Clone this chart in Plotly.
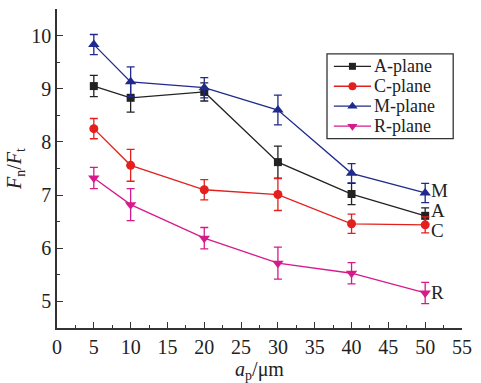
import plotly.graph_objects as go

x = [5, 10, 20, 30, 40, 50]
a_plane = [9.05, 8.83, 8.94, 7.62, 7.02, 6.61]
a_err = [0.2, 0.27, 0.17, 0.3, 0.2, 0.15]
c_plane = [8.25, 7.56, 7.10, 7.01, 6.46, 6.44]
c_err = [0.19, 0.3, 0.19, 0.3, 0.18, 0.15]
m_plane = [9.83, 9.13, 9.02, 8.60, 7.41, 7.04]
m_err = [0.19, 0.28, 0.19, 0.28, 0.18, 0.18]
r_plane = [7.32, 6.82, 6.19, 5.72, 5.53, 5.16]
r_err = [0.2, 0.3, 0.2, 0.3, 0.2, 0.2]
names = ["A-plane", "C-plane", "M-plane", "R-plane"]
end_labels = ["A", "C", "M", "R"]
end_offsets = [0.1, -0.11, 0.04, 0.0]

series = [
    (a_plane, a_err, "#222222", "square", 8),
    (c_plane, c_err, "#e3201e", "circle", 9),
    (m_plane, m_err, "#1f2a8c", "triangle-up", 10),
    (r_plane, r_err, "#d61a8c", "triangle-down", 10),
]

FONT = "Liberation Serif, Times New Roman, serif"
TXT = "#222"
fig = go.Figure()
for (ys, es, col, sym, sz), nm in zip(series, names):
    fig.add_trace(go.Scatter(
        x=x, y=ys, name=nm, mode="lines+markers", showlegend=False,
        line=dict(color=col, width=1.3),
        marker=dict(symbol=sym, size=sz, color=col),
        error_y=dict(type="data", array=es, color=col, thickness=1.3, width=4),
    ))

for ys, lab, off, s in zip([a_plane, c_plane, m_plane, r_plane], end_labels, end_offsets, series):
    fig.add_annotation(x=50, y=ys[-1] + off, text=lab, showarrow=False,
                       xanchor="left", xshift=4, font=dict(family=FONT, size=19, color=TXT))

# Hand-drawn legend on an overlay axis expressed in figure pixels
L_BOX = (333, 462, 54, 139)
L_ROWS = [66.5, 86.5, 106.5, 126.5]
L_LINE = (340, 378)
L_TEXT_X = 379
fig.add_shape(type="rect", xref="x2", yref="y2", x0=L_BOX[0], x1=L_BOX[1], y0=L_BOX[2], y1=L_BOX[3],
              line=dict(color="#333", width=1.3), fillcolor="white", layer="below")
for (ys, es, col, sym, sz), nm, ry in zip(series, names, L_ROWS):
    fig.add_trace(go.Scatter(
        x=[L_LINE[0], L_LINE[1]], y=[ry, ry],
        xaxis="x2", yaxis="y2", mode="lines", showlegend=False, hoverinfo="skip",
        line=dict(color=col, width=1.3)))
    fig.add_trace(go.Scatter(
        x=[(L_LINE[0] + L_LINE[1]) / 2], y=[ry], xaxis="x2", yaxis="y2", mode="markers",
        showlegend=False, hoverinfo="skip", marker=dict(symbol=sym, size=sz - 1, color=col)))
    fig.add_annotation(x=L_TEXT_X, y=ry, xref="x2", yref="y2", text=nm, showarrow=False,
                       xanchor="left", yanchor="middle", font=dict(family=FONT, size=18, color=TXT))

fig.update_layout(
    width=481, height=383,
    margin=dict(l=57, r=10, t=9, b=54),
    paper_bgcolor="white", plot_bgcolor="white",
    font=dict(family=FONT, size=20, color=TXT),
    showlegend=False,
    xaxis=dict(range=[0, 55], tickvals=[0, 5, 10, 15, 20, 25, 30, 35, 40, 45, 50, 55],
               ticks="inside", ticklen=6, tickwidth=1.3, tickcolor="#333",
               minor=dict(dtick=2.5, ticks="inside", ticklen=3, tickcolor="#333"),
               showline=True, linecolor="#333", linewidth=1.5, showgrid=False, zeroline=False,
               tickfont=dict(family=FONT, size=20, color=TXT),
               title=dict(text="<i>a</i><sub>p</sub>/μm", font=dict(family=FONT, size=20), standoff=2)),
    yaxis=dict(range=[4.5, 10.5], tickvals=[5, 6, 7, 8, 9, 10],
               ticks="inside", ticklen=6, tickwidth=1.3, tickcolor="#333",
               minor=dict(dtick=0.5, ticks="inside", ticklen=3, tickcolor="#333"),
               showline=True, linecolor="#333", linewidth=1.5, showgrid=False, zeroline=False,
               tickfont=dict(family=FONT, size=20, color=TXT),
               title=dict(text="<i>F</i><sub>n</sub>/<i>F</i><sub>t</sub>", font=dict(family=FONT, size=20), standoff=4)),
    xaxis2=dict(overlaying="x", range=[57, 471], visible=False, fixedrange=True),
    yaxis2=dict(overlaying="y", range=[329, 9], visible=False, fixedrange=True),
)
fig.write_html("out.html")
